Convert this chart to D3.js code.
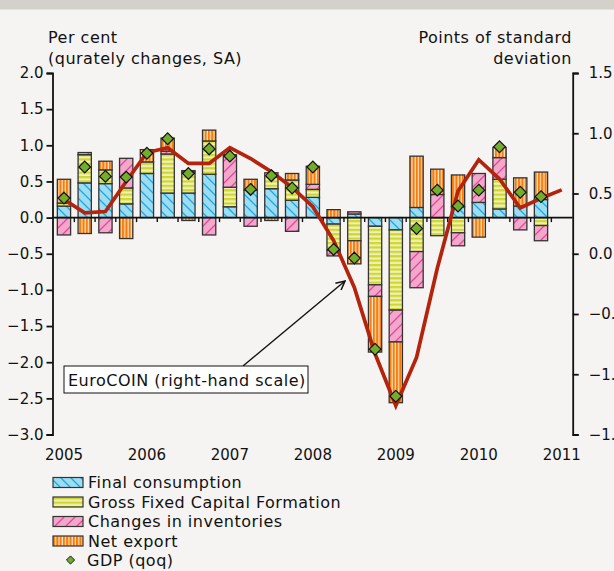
<!DOCTYPE html>
<html>
<head>
<meta charset="utf-8">
<script src="https://cdn.jsdelivr.net/npm/d3@7"></script>
<style>
    body { margin: 0; background: #f5f4f2; }
    svg { display: block; font-family: "DejaVu Sans", sans-serif; }
    .lbl { font-size: 16px; letter-spacing: 0.5px; }
</style>
</head>
<body>
<svg id="chart" width="614" height="571"></svg>
<script>
// quarters from 2005Q1 to 2011Q1 (last one has only the EuroCOIN point)
const quarters = ["2005Q1","2005Q2","2005Q3","2005Q4","2006Q1","2006Q2","2006Q3","2006Q4",
    "2007Q1","2007Q2","2007Q3","2007Q4","2008Q1","2008Q2","2008Q3","2008Q4",
    "2009Q1","2009Q2","2009Q3","2009Q4","2010Q1","2010Q2","2010Q3","2010Q4","2011Q1"];

// contributions to GDP growth, percentage points
const finalConsumption = [0.16, 0.48, 0.47, 0.19, 0.61, 0.34, 0.34, 0.60, 0.15, 0.38, 0.40, 0.24,
    0.28, -0.09, 0.05, -0.12, -0.17, 0.14, 0.00, 0.15, 0.21, 0.12, 0.16, 0.25];
const grossFixedCapital = [0.04, 0.39, 0.19, 0.22, 0.16, 0.54, 0.29, 0.46, 0.27, 0.00, 0.22, 0.28,
    0.11, -0.36, -0.32, -0.81, -1.11, -0.47, -0.25, -0.21, 0.00, 0.41, 0.00, -0.11];
const inventories = [-0.24, 0.03, -0.21, 0.41, 0.00, 0.04, 0.02, -0.24, 0.45, -0.12, 0.00, -0.19,
    0.07, -0.08, 0.03, -0.16, -0.44, -0.50, 0.32, -0.18, 0.40, 0.30, -0.17, -0.21];
const netExport = [0.33, -0.22, 0.12, -0.29, 0.17, 0.18, -0.04, 0.15, 0.00, 0.15, -0.04, 0.09,
    0.25, 0.11, -0.32, -0.77, -0.84, 0.71, 0.35, 0.44, -0.27, 0.14, 0.39, 0.38];
const gdp = [0.27, 0.70, 0.57, 0.56, 0.89, 1.09, 0.61, 0.95, 0.85, 0.39, 0.58, 0.41,
    0.70, -0.44, -0.56, -1.82, -2.47, -0.15, 0.38, 0.16, 0.38, 0.98, 0.35, 0.29];

// EuroCOIN, points of standard deviation (right-hand scale)
const euroCoin = [0.45, 0.34, 0.35, 0.60, 0.84, 0.88, 0.75, 0.75, 0.88, 0.79, 0.68, 0.55,
    0.39, 0.11, -0.28, -0.83, -1.26, -0.86, -0.12, 0.52, 0.78, 0.62, 0.38, 0.46, 0.53];

const leftTicks = [-3.0, -2.5, -2.0, -1.5, -1.0, -0.5, 0.0, 0.5, 1.0, 1.5, 2.0];
const rightTicks = [-1.5, -1.0, -0.5, 0.0, 0.5, 1.0, 1.5];

const seriesKeys = ["fc", "gf", "ci", "nx"];
const seriesNames = ["Final consumption", "Gross Fixed Capital Formation", "Changes in inventories", "Net export"];

const svg = d3.select("#chart");

// top grey band
svg.append("rect").attr("x", 0).attr("y", 0).attr("width", 614).attr("height", 9.5).attr("fill", "#d4d0cc");

// patterns
const defs = svg.append("defs");

const pFc = defs.append("pattern").attr("id", "p-fc").attr("patternUnits", "userSpaceOnUse")
    .attr("width", 10).attr("height", 10);
pFc.append("rect").attr("width", 10).attr("height", 10).attr("fill", "#9edcf2");
pFc.append("path").attr("d", "M0,0 L10,10 M-5,5 L5,15 M5,-5 L15,5")
    .attr("stroke", "#1aa9e2").attr("stroke-width", 1.3);

const pGf = defs.append("pattern").attr("id", "p-gf").attr("patternUnits", "userSpaceOnUse")
    .attr("width", 6).attr("height", 4.4);
pGf.append("rect").attr("width", 6).attr("height", 4.4).attr("fill", "#eff1b4");
pGf.append("rect").attr("width", 6).attr("height", 2.2).attr("fill", "#cfd631");

const pCi = defs.append("pattern").attr("id", "p-ci").attr("patternUnits", "userSpaceOnUse")
    .attr("width", 11).attr("height", 11);
pCi.append("rect").attr("width", 11).attr("height", 11).attr("fill", "#f2a8cb");
pCi.append("path").attr("d", "M0,11 L11,0 M-5.5,5.5 L5.5,-5.5 M5.5,16.5 L16.5,5.5")
    .attr("stroke", "#e8449a").attr("stroke-width", 1.3);

const pNx = defs.append("pattern").attr("id", "p-nx").attr("patternUnits", "userSpaceOnUse")
    .attr("width", 3.3).attr("height", 6);
pNx.append("rect").attr("width", 3.3).attr("height", 6).attr("fill", "#fde2c0");
pNx.append("rect").attr("width", 2.1).attr("height", 6).attr("fill", "#f47d0e");

const fills = { fc: "url(#p-fc)", gf: "url(#p-gf)", ci: "url(#p-ci)", nx: "url(#p-nx)" };

defs.append("marker").attr("id", "arrow").attr("markerUnits", "userSpaceOnUse")
    .attr("viewBox", "0 0 10 10").attr("refX", 9).attr("refY", 5)
    .attr("markerWidth", 11).attr("markerHeight", 11).attr("orient", "auto")
    .append("path").attr("d", "M1,1 L9,5 L1,9").attr("fill", "none")
    .attr("stroke", "#111").attr("stroke-width", 1.4);

// scales
const x = d3.scaleBand().domain(quarters).range([53.6, 572.1]).padding(0);
const yL = d3.scaleLinear().domain([-3, 2]).range([434.5, 73]);
const yR = d3.scaleLinear().domain([-1.5, 1.5]).range([434.5, 73]);
const barW = x.bandwidth() * 0.64;

// stacked data
const table = quarters.slice(0, 24).map((q, i) => ({
    q: q,
    fc: finalConsumption[i],
    gf: grossFixedCapital[i],
    ci: inventories[i],
    nx: netExport[i]
}));

const stacked = d3.stack().keys(seriesKeys).offset(d3.stackOffsetDiverging)(table);

svg.append("g").selectAll("g")
    .data(stacked)
    .enter()
    .append("g")
    .attr("fill", d => fills[d.key])
    .selectAll("rect")
    .data(d => d.filter(s => s[1] !== s[0]))
    .enter()
    .append("rect")
    .attr("x", d => x(d.data.q) + (x.bandwidth() - barW) / 2)
    .attr("y", d => yL(Math.max(d[0], d[1])))
    .attr("width", barW)
    .attr("height", d => Math.abs(yL(d[0]) - yL(d[1])))
    .attr("stroke", "#333")
    .attr("stroke-width", 1.3);

// zero line with quarter ticks
const zeroY = yL(0);
svg.append("line").attr("x1", 52.5).attr("x2", 572.7).attr("y1", zeroY).attr("y2", zeroY)
    .attr("stroke", "#111").attr("stroke-width", 1.6);
svg.append("g").selectAll("line")
    .data(quarters.slice(1))
    .enter()
    .append("line")
    .attr("x1", d => x(d)).attr("x2", d => x(d))
    .attr("y1", zeroY).attr("y2", zeroY + 4.5)
    .attr("stroke", "#111").attr("stroke-width", 1.4);

// EuroCOIN line
const line = d3.line()
    .x((d, i) => x(quarters[i]) + x.bandwidth() / 2)
    .y(d => yR(d));

svg.append("path")
    .datum(euroCoin)
    .attr("d", line)
    .attr("fill", "none")
    .attr("stroke", "#b4230c")
    .attr("stroke-width", 3.7);

// GDP diamonds
const diamond = d3.symbol().type(d3.symbolDiamond2).size(88);
svg.append("g").selectAll("path")
    .data(gdp)
    .enter()
    .append("path")
    .attr("d", diamond)
    .attr("transform", (d, i) => `translate(${x(quarters[i]) + x.bandwidth() / 2},${yL(d)})`)
    .attr("fill", "#73ad2c")
    .attr("stroke", "#111")
    .attr("stroke-width", 1.2);

// axes
const fmt = d3.format(".1f");
const leftAxis = svg.append("g")
    .attr("transform", "translate(52.5,0)")
    .call(d3.axisLeft(yL).tickValues(leftTicks).tickFormat(fmt).tickSize(6).tickPadding(3));
const rightAxis = svg.append("g")
    .attr("transform", "translate(572.7,0)")
    .call(d3.axisRight(yR).tickValues(rightTicks).tickFormat(fmt).tickSize(6).tickPadding(10));

[leftAxis, rightAxis].forEach(a => {
    a.selectAll("path, line").attr("stroke", "#111").attr("stroke-width", 1.8);
    a.selectAll("text").attr("fill", "#111").style("font-size", "15px")
        .style("font-family", "'DejaVu Sans', sans-serif");
});

// year labels
svg.append("g").selectAll("text")
    .data(quarters.filter(q => q.endsWith("Q1")))
    .enter()
    .append("text")
    .attr("x", d => x(d) + x.bandwidth() / 2)
    .attr("y", 460)
    .attr("text-anchor", "middle")
    .style("font-size", "15px")
    .attr("fill", "#111")
    .text(d => d.slice(0, 4));

// axis titles
const titles = svg.append("g").attr("class", "lbl").attr("fill", "#111");
titles.append("text").attr("x", 48).attr("y", 42.5).text("Per cent");
titles.append("text").attr("x", 48).attr("y", 64).text("(qurately changes, SA)");
titles.append("text").attr("x", 572).attr("y", 42.5).attr("text-anchor", "end").text("Points of standard");
titles.append("text").attr("x", 572).attr("y", 64).attr("text-anchor", "end").text("deviation");

// EuroCOIN annotation
svg.append("line").attr("x1", 243).attr("y1", 366).attr("x2", 345).attr("y2", 281)
    .attr("stroke", "#111").attr("stroke-width", 1.4).attr("marker-end", "url(#arrow)");
svg.append("rect").attr("x", 64).attr("y", 366).attr("width", 244).attr("height", 27)
    .attr("fill", "#fff").attr("stroke", "#111").attr("stroke-width", 1);
svg.append("text").attr("class", "lbl").attr("x", 68).attr("y", 385.5).attr("fill", "#111")
    .text("EuroCOIN (right-hand scale)");

// legend
const legend = svg.append("g").attr("transform", "translate(53,0)");
seriesKeys.forEach((k, i) => {
    const yb = 488 + i * 19.5;
    legend.append("rect").attr("x", 0).attr("y", yb - 10.5).attr("width", 30).attr("height", 10)
        .attr("fill", fills[k]).attr("stroke", "#333").attr("stroke-width", 1.2);
    legend.append("text").attr("class", "lbl").attr("x", 35).attr("y", yb).attr("fill", "#111")
        .text(seriesNames[i]);
});
legend.append("path").attr("d", d3.symbol().type(d3.symbolDiamond2).size(42))
    .attr("transform", `translate(17.5,${488 + 4 * 19.5 - 6})`)
    .attr("fill", "#73ad2c").attr("stroke", "#111").attr("stroke-width", 1);
legend.append("text").attr("class", "lbl").attr("x", 34).attr("y", 488 + 4 * 19.5).attr("fill", "#111")
    .text("GDP (qoq)");
</script>
</body>
</html>
